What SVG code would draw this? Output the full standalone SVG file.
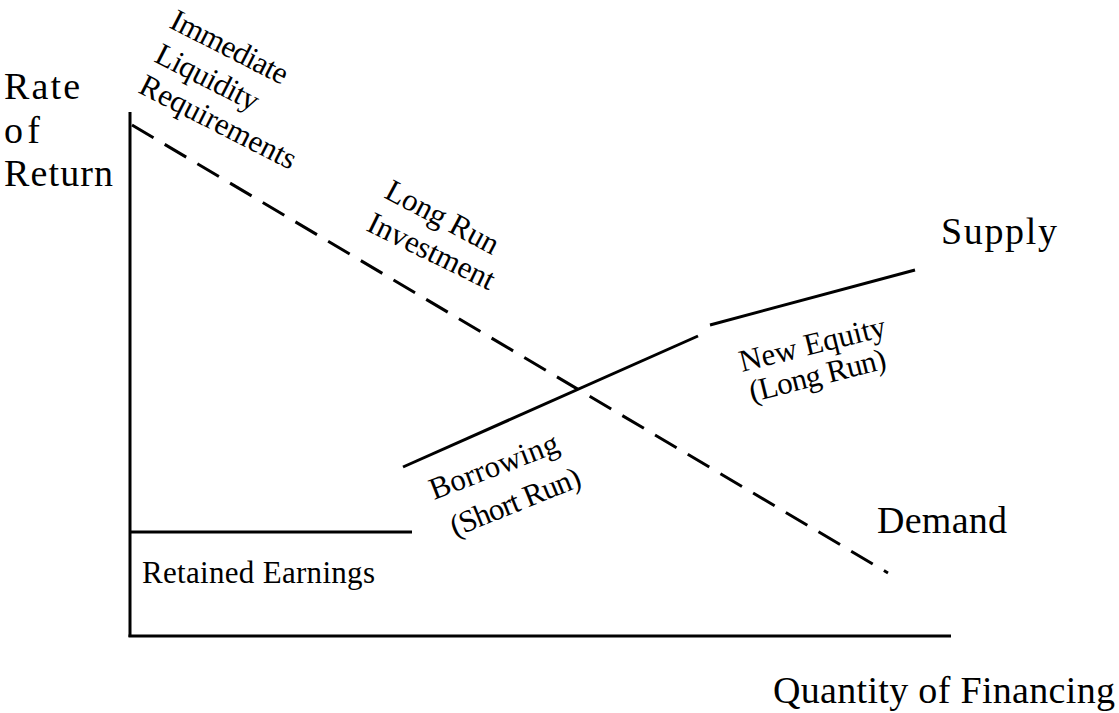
<svg xmlns="http://www.w3.org/2000/svg" width="1119" height="713" viewBox="0 0 1119 713">
<style>
.ln{stroke:#000;stroke-width:3;fill:none;stroke-linecap:butt}
.ds{stroke:#000;stroke-width:3;fill:none;stroke-dasharray:25 13}
.big{font-family:"Liberation Serif",serif;font-size:38px;fill:#000}
.lab{font-family:"Liberation Serif",serif;font-size:31px;fill:#000}
</style>
<rect width="1119" height="713" fill="#fff"/>
<g id="connectors">
<line class="ln" x1="130" y1="112" x2="130" y2="637"/>
<line class="ln" x1="128.5" y1="636" x2="951" y2="636"/>
<line class="ln" x1="130" y1="532" x2="412" y2="532"/>
<line class="ln" x1="403" y1="467" x2="698" y2="336"/>
<line class="ln" x1="710" y1="325" x2="915" y2="270"/>
<line class="ds" x1="132" y1="125" x2="888" y2="573"/>
</g>
<g id="axis-y-label">
<text class="big" x="4" y="99" textLength="76" lengthAdjust="spacing">Rate</text>
<text class="big" x="4" y="143" textLength="36" lengthAdjust="spacing">of</text>
<text class="big" x="4" y="186" textLength="109" lengthAdjust="spacing">Return</text>
</g>
<g id="axis-x-label">
<text class="big" x="773" y="703" textLength="342" lengthAdjust="spacing">Quantity of Financing</text>
</g>
<g id="supply-label">
<text class="big" x="941" y="244" textLength="116" lengthAdjust="spacing">Supply</text>
</g>
<g id="demand-label">
<text class="big" x="877" y="533" textLength="130" lengthAdjust="spacing">Demand</text>
</g>
<g id="retained-earnings">
<text class="lab" x="142" y="583" textLength="233" lengthAdjust="spacing">Retained Earnings</text>
</g>
<g id="immediate-liquidity">
<text class="lab" transform="translate(168,27) rotate(27)" textLength="128" lengthAdjust="spacing">Immediate</text>
<text class="lab" transform="translate(153,61) rotate(27)" textLength="112" lengthAdjust="spacing">Liquidity</text>
<text class="lab" transform="translate(137,92) rotate(27)" textLength="172" lengthAdjust="spacing">Requirements</text>
</g>
<g id="long-run-investment">
<text class="lab" transform="translate(383,197) rotate(28)" textLength="124" lengthAdjust="spacing">Long Run</text>
<text class="lab" transform="translate(365,230) rotate(26)" textLength="138" lengthAdjust="spacing">Investment</text>
</g>
<g id="borrowing">
<text class="lab" transform="translate(434,500) rotate(-21)" textLength="136" lengthAdjust="spacing">Borrowing</text>
<text class="lab" transform="translate(455,537) rotate(-22)" textLength="138" lengthAdjust="spacing">(Short Run)</text>
</g>
<g id="new-equity">
<text class="lab" transform="translate(742,372) rotate(-14)" textLength="150" lengthAdjust="spacing">New Equity</text>
<text class="lab" transform="translate(752,402) rotate(-14)" textLength="140" lengthAdjust="spacing">(Long Run)</text>
</g>
</svg>
